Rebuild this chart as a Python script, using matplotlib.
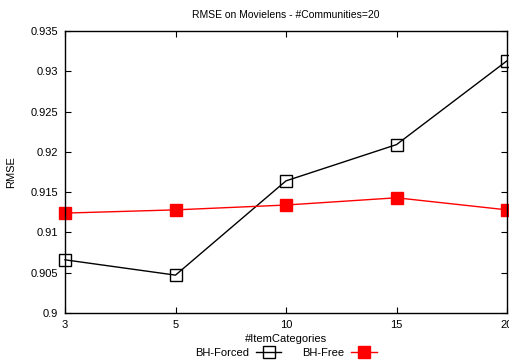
import matplotlib
matplotlib.use('Agg')
import matplotlib.pyplot as plt

# x categories (equally spaced on the axis)
categories = ['3', '5', '10', '15', '20']
bh_forced = [0.9066, 0.9047, 0.9164, 0.9209, 0.9313]
bh_free = [0.9124, 0.9128, 0.9134, 0.9143, 0.9128]

plt.rcParams['font.family'] = ['Liberation Sans', 'DejaVu Sans']
plt.rcParams['font.size'] = 8

fig = plt.figure(figsize=(5.09, 3.64), dpi=100)
ax = fig.add_axes([65 / 509, 51 / 364, 442 / 509, 282 / 364])

x = list(range(len(categories)))
ax.plot(x, bh_forced, color='black', lw=1, marker='s', ms=8.5,
        mfc='none', mec='black', mew=1, label='BH-Forced', clip_on=False)
ax.plot(x, bh_free, color='red', lw=1, marker='s', ms=8.5,
        mfc='red', mec='red', label='BH-Free', clip_on=False)

ax.set_xlim(0, len(categories) - 1)
ax.set_ylim(0.9, 0.935)
ax.set_xticks(x)
ax.set_xticklabels(categories)
ax.set_yticks([0.9, 0.905, 0.91, 0.915, 0.92, 0.925, 0.93, 0.935])
ax.set_yticklabels(['0.9', '0.905', '0.91', '0.915', '0.92', '0.925', '0.93', '0.935'])
ax.tick_params(direction='in', top=True, right=True, length=4, width=0.8, pad=5)
for s in ax.spines.values():
    s.set_linewidth(1)

ax.set_title('RMSE on Movielens - #Communities=20', fontsize=7.5, pad=9)
ax.set_xlabel('#ItemCategories', labelpad=3)
ax.set_ylabel('RMSE', labelpad=10)

leg = ax.legend(loc='upper center', bbox_to_anchor=(0.5, -0.09), ncol=2,
                frameon=False, markerfirst=False, handlelength=2.3,
                columnspacing=1.9, handletextpad=0.6, markerscale=0.95)

fig.savefig('out.png', dpi=100)
